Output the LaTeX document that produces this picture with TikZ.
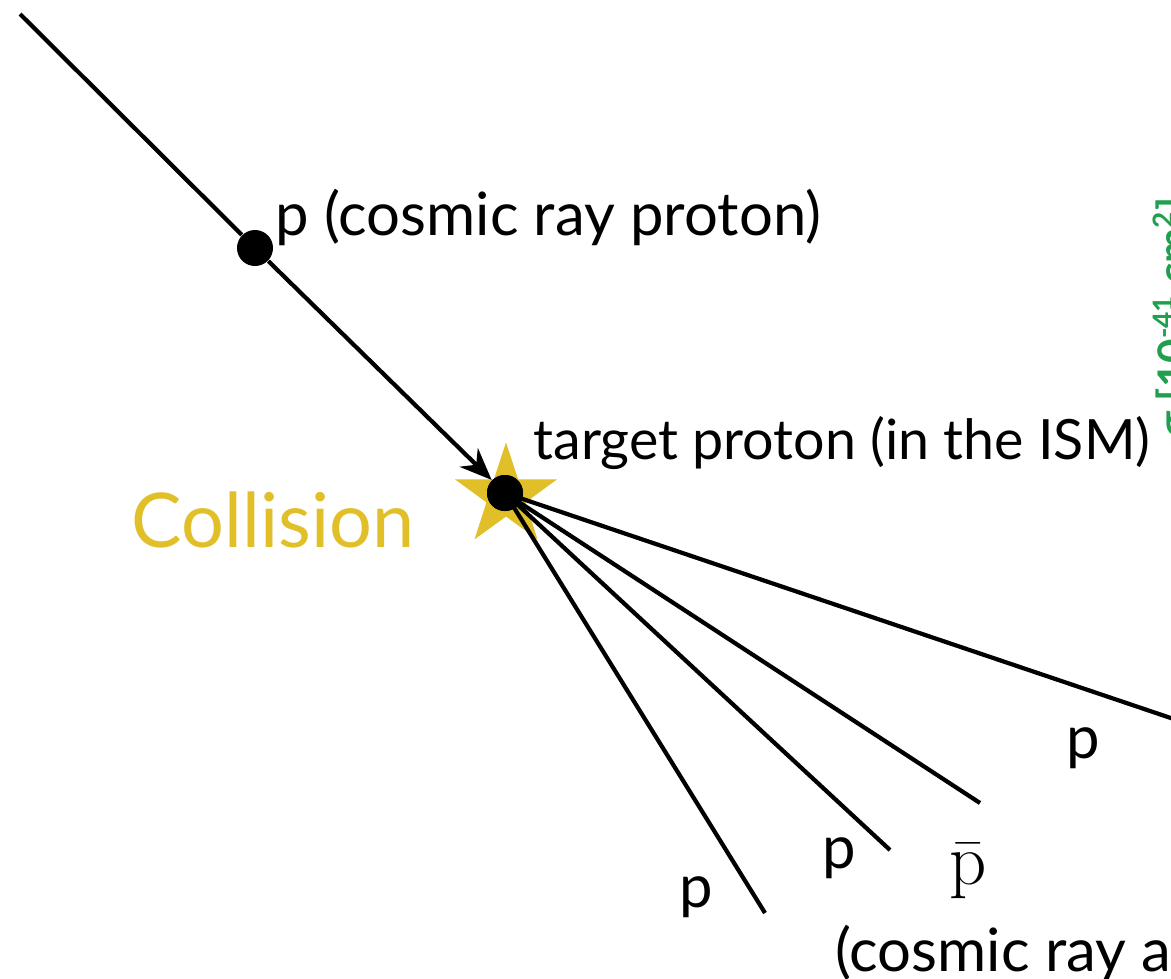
\documentclass[tikz,border=0pt]{standalone}
\usepackage[no-math]{fontspec}
\setmainfont{Lato}
\usetikzlibrary{arrows.meta,shapes.geometric}
\definecolor{collgold}{RGB}{224,191,40}
\definecolor{sigmagreen}{RGB}{32,160,78}

\begin{document}
\begin{tikzpicture}[x=0.01cm,y=-0.01cm,>={Stealth[length=3.2mm,width=2.6mm]},
  track/.style={line width=1.2pt},
  vtx/.style={circle,fill=black,inner sep=0pt,minimum size=0.36cm},
  lbl/.style={font=\fontsize{17}{20}\selectfont,inner sep=0pt}]
\useasboundingbox (0,0) rectangle (1171,978);
\clip (0,0) rectangle (1171,978);
% collision star
\node[star,star points=5,star point ratio=2.6,fill=collgold,inner sep=0pt,minimum size=1.07cm] (star) at (506,496) {};
% vertices
\coordinate (start) at (20,14);
\node[vtx] (pcr) at (255,248) {};
\node[vtx] (tgt) at (505,493) {};
\draw[track] (start) -- (pcr);
\draw[track,->] (pcr) -- (tgt);
% outgoing tracks
\coordinate (e1) at (1230,738);
\coordinate (e2) at (980,803);
\coordinate (e3) at (890,850);
\coordinate (e4) at (765,913);
\foreach \e in {e1,e2,e3,e4}
  \draw[track] (tgt.center) -- (\e);
\node[vtx] at (tgt) {};
% labels
\node[lbl,anchor=west] (lpcr) at (275,217) {p (cosmic ray proton)};
\node[lbl,font=\fontsize{15.8}{19}\selectfont,anchor=west] (ltgt) at (533,443) {target proton (in the ISM)};
\node[font=\fontsize{21.5}{26}\selectfont,text=collgold,anchor=east,inner sep=0pt] (lcoll) at (415,520) {Collision};
\node[lbl] (p1) at (1083,748) {p};
\node[lbl] (p2) at (839,858) {p};
\node[lbl] (p3) at (696,897) {p};
\node[font=\fontsize{21}{24}\selectfont,inner sep=0pt] (pbar) at (968,871) {$\bar{\mathrm{p}}$};
\node[lbl,anchor=west] (lpbar) at (835,953) {(cosmic ray antiproton)};
\node[font=\bfseries\fontsize{12}{15}\selectfont,text=sigmagreen,rotate=90,anchor=north west,inner sep=0pt] (lsig) at (1152,438) {σ [10\textsuperscript{-41} cm\textsuperscript{2}]};
\end{tikzpicture}
\end{document}
